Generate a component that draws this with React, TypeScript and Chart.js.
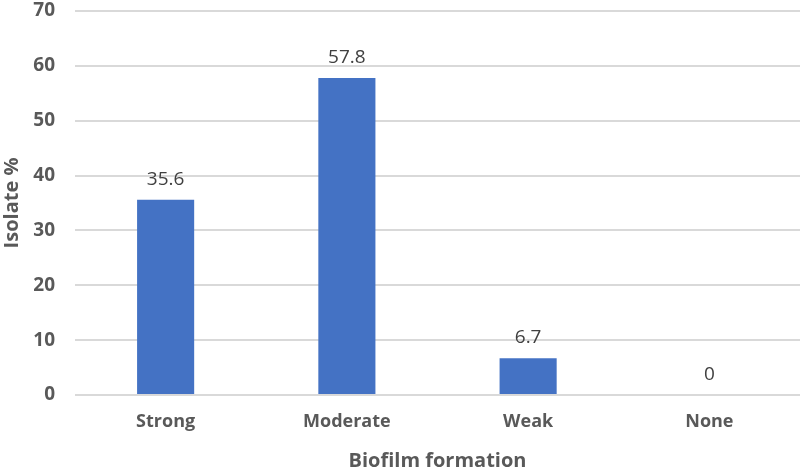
import React, { useEffect, useRef } from "react";
import { Chart, registerables } from "chart.js";

Chart.register(...registerables);

const categories = ["Strong", "Moderate", "Weak", "None"];
const values = [35.6, 57.8, 6.7, 0];
const yTicks = [0, 10, 20, 30, 40, 50, 60, 70];

const FONT = "'Open Sans', 'Liberation Sans', sans-serif";

const labelPlugin = {
  id: "valueLabels",
  afterDatasetsDraw(chart: any) {
    const ctx = chart.ctx;
    const meta = chart.getDatasetMeta(0);
    ctx.save();
    ctx.font = `400 19px ${FONT}`;
    ctx.fillStyle = "#404040";
    ctx.textAlign = "center";
    ctx.textBaseline = "alphabetic";
    meta.data.forEach((bar: any, i: number) => {
      ctx.fillText(String(values[i]), bar.x, bar.y - 15);
    });
    ctx.restore();
  },
};

export default function App() {
  const ref = useRef<HTMLCanvasElement>(null);
  useEffect(() => {
    const chart = new Chart(ref.current!, {
      type: "bar",
      data: {
        labels: categories,
        datasets: [
          {
            data: values,
            backgroundColor: "#4472C4",
            barPercentage: 0.315,
            categoryPercentage: 1,
          },
        ],
      },
      options: {
        animation: false,
        responsive: false,
        maintainAspectRatio: false,
        layout: { padding: { top: 11, right: 0, left: 0, bottom: 0 } },
        plugins: { legend: { display: false }, tooltip: { enabled: false } },
        scales: {
          x: {
            grid: { display: false, drawTicks: false },
            border: { display: false },
            ticks: {
              color: "#595959",
              font: { family: FONT, size: 18, weight: "bold" },
              padding: 16,
            },
            title: {
              display: true,
              text: "Biofilm formation",
              color: "#595959",
              font: { family: FONT, size: 20, weight: "bold" },
              padding: { top: 4, bottom: 0 },
            },
            afterFit: (s: any) => {
              s.height = 78;
              s.paddingLeft = 0;
              s.paddingRight = 0;
            },
          },
          y: {
            min: 0,
            max: 70,
            afterBuildTicks: (s: any) => {
              s.ticks = yTicks.map((v) => ({ value: v }));
            },
            grid: { color: "#d9d9d9", lineWidth: 2, drawTicks: false },
            border: { display: false },
            ticks: {
              color: "#595959",
              font: { family: FONT, size: 19, weight: "bold" },
              padding: 20,
            },
            title: {
              display: true,
              text: "Isolate %",
              color: "#595959",
              font: { family: FONT, size: 20, weight: "bold" },
              padding: { top: 0, bottom: 0 },
            },
            afterFit: (s: any) => {
              s.width = 75;
              s.paddingTop = 0;
              s.paddingBottom = 0;
            },
          },
        },
      },
      plugins: [labelPlugin],
    });
    return () => chart.destroy();
  }, []);
  return (
    <div style={{ position: "fixed", left: 0, top: 0, width: 800, height: 473, background: "#fff" }}>
      <canvas ref={ref} width={800} height={473} style={{ display: "block" }} />
    </div>
  );
}
